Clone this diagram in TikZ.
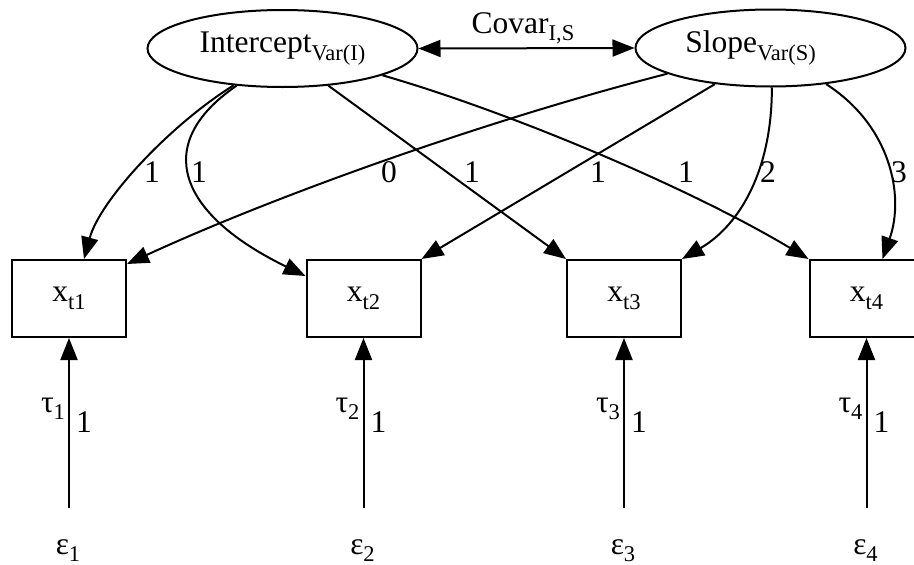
\documentclass[tikz,border=0pt]{standalone}
\usepackage{fontspec}
\setmainfont{Liberation Serif}
\usetikzlibrary{arrows.meta,shapes.geometric}
% lowered, smaller text for subscripts
\newcommand{\lowsub}[1]{\raisebox{-7.5pt}{\fontsize{22.5}{24}\selectfont #1}}
\begin{document}
\begin{tikzpicture}[x=1pt,y=-1pt,
  font=\fontsize{31.5}{36}\selectfont,
  line width=2pt,
  latent/.style={draw, ellipse, minimum width=270pt, minimum height=77pt, inner sep=0pt},
  observed/.style={draw, rectangle, minimum width=114pt, minimum height=77pt, inner sep=0pt},
  errlabel/.style={anchor=north, inner sep=0pt, text height=45pt, text depth=7.5pt},
  tag/.style={anchor=base, inner sep=0pt},
  path arrow/.style={-{Triangle[length=22pt,width=17pt]}},
  both arrow/.style={{Triangle[length=22pt,width=17pt]}-{Triangle[length=22pt,width=17pt]}},
]
\clip (0,0) rectangle (914,565);

% latent growth factors
\node[latent] (I) at (282.5,48.5) {Intercept\lowsub{Var(I)}};
\node[latent] (S) at (770.5,48) {Slope\lowsub{Var(S)}\hspace*{40pt}};

% observed measures
\node[observed] (x1) at (69,298.5) {x\lowsub{t1}};
\node[observed] (x2) at (363.5,298.5) {x\lowsub{t2}};
\node[observed] (x3) at (624,298.5) {x\lowsub{t3}};
\node[observed] (x4) at (866.5,298.5) {x\lowsub{t4}};

% residual terms
\node[errlabel] (e1) at (68,508) {ε\lowsub{1}};
\node[errlabel] (e2) at (362.5,508) {ε\lowsub{2}};
\node[errlabel] (e3) at (623,508) {ε\lowsub{3}};
\node[errlabel] (e4) at (865.5,508) {ε\lowsub{4}};

% factor covariance
\draw[both arrow] (I.east) -- (S.west);
\node[tag] (cv) at (523,33) {Covar\lowsub{I,S}};

% intercept loadings
\draw[path arrow] (I.-143.6) .. controls (170,125) and (100,200) .. ([xshift=15pt]x1.north);
\draw[path arrow] (I.-141) .. controls (150,145) and (180,215) .. ([yshift=-17pt]x2.north west);
\draw[path arrow] (I.-39.4) -- (x3.north west);
\draw[path arrow] (I.-15.7) .. controls (510,112) and (690,188) .. (x4.north west);

% slope loadings
\draw[path arrow] (S.194.6) .. controls (487,120) and (277,195) .. ([yshift=-5pt]x1.north east);
\draw[path arrow] (S.213.4) -- (x2.north east);
\draw[path arrow] (S.-88) .. controls (772,170) and (740,225) .. (x3.north east);
\draw[path arrow] (S.-33.4) .. controls (890,125) and (905,195) .. ([xshift=16pt]x4.north);

% loading values
\node[tag] (l1) at (152,182) {1};
\node[tag] (l2) at (199,182) {1};
\node[tag] (l5) at (389,182) {0};
\node[tag] (l3) at (472,182) {1};
\node[tag] (l6) at (598,182) {1};
\node[tag] (l4) at (686,182) {1};
\node[tag] (l7) at (768,182) {2};
\node[tag] (l8) at (899,182) {3};

% residual paths
\draw[path arrow] (x1.south |- e1.north) -- (x1.south);
\draw[path arrow] (x2.south |- e2.north) -- (x2.south);
\draw[path arrow] (x3.south |- e3.north) -- (x3.south);
\draw[path arrow] (x4.south |- e4.north) -- (x4.south);

% residual variances and fixed weights
\node[tag] (t1) at (53,412) {τ\lowsub{1}};
\node[tag] (t2) at (347.5,412) {τ\lowsub{2}};
\node[tag] (t3) at (608,412) {τ\lowsub{3}};
\node[tag] (t4) at (850.5,412) {τ\lowsub{4}};
\node[tag] (w1) at (84,432) {1};
\node[tag] (w2) at (378.5,432) {1};
\node[tag] (w3) at (639,432) {1};
\node[tag] (w4) at (881.5,432) {1};
\end{tikzpicture}
\end{document}
